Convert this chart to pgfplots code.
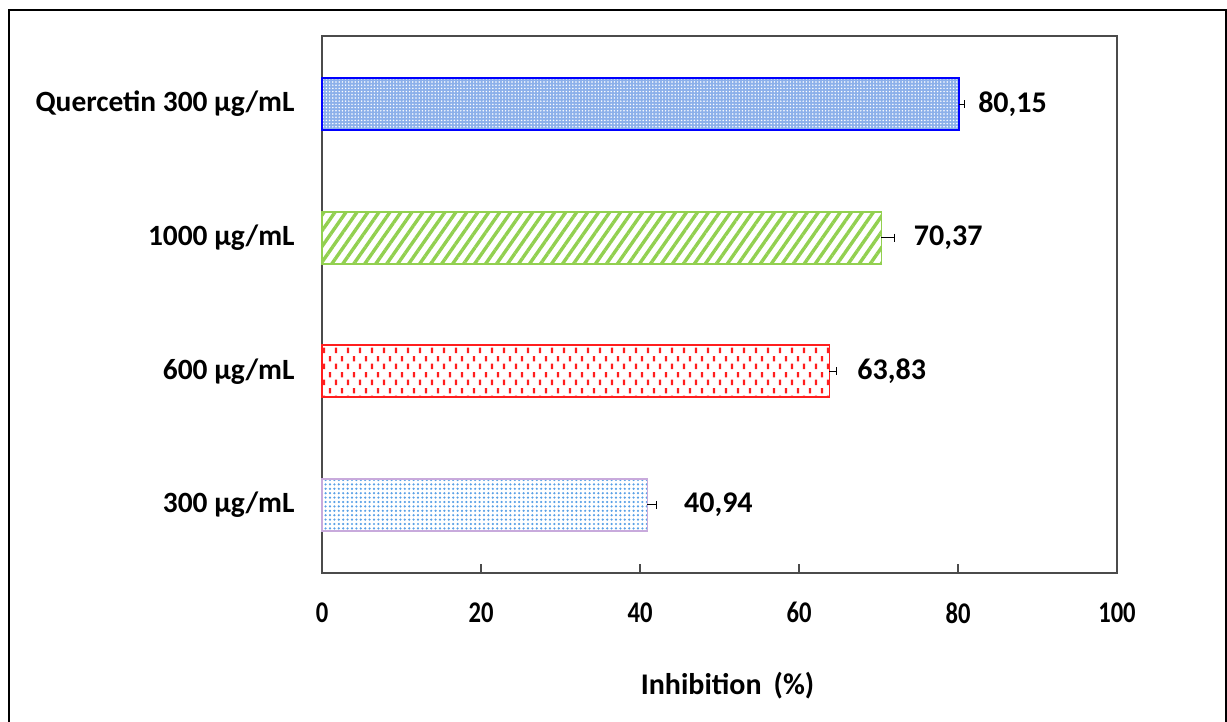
\documentclass[border=0pt]{standalone}
\usepackage{fontspec}
\setmainfont{Carlito}
\usepackage{graphicx}
\usepackage{pgfplots}
\pgfplotsset{compat=1.18}
\usetikzlibrary{patterns.meta}
\definecolor{qblue}{RGB}{0,0,255}
\definecolor{qfill}{RGB}{140,176,234}
\definecolor{lgreen}{RGB}{146,208,80}
\definecolor{dred}{RGB}{255,30,30}
\definecolor{lav}{RGB}{200,170,220}
\definecolor{dotblue}{RGB}{88,160,230}
\definecolor{axgray}{RGB}{75,75,75}
\tikzdeclarepattern{
  name=reddash,
  type=uncolored,
  bounding box={(0pt,0pt) and (6.2pt,8pt)},
  tile size={(6.2pt,8pt)},
  code={
    \pgfpathrectangle{\pgfpoint{0.5pt}{0.5pt}}{\pgfpoint{1.2pt}{2.8pt}}
    \pgfpathrectangle{\pgfpoint{3.6pt}{4.5pt}}{\pgfpoint{1.2pt}{2.8pt}}
    \pgfusepath{fill}
  }
}
\begin{document}
\begin{tikzpicture}
\useasboundingbox (0,0) rectangle (613.5pt,361pt);
\draw[line width=1.4pt] (4.5pt,0pt) -- (4.5pt,356pt) -- (613pt,356pt) -- (613pt,0pt);
\begin{axis}[
  at={(161pt,74.5pt)}, anchor=south west,
  scale only axis,
  width=397.5pt, height=268.5pt,
  xmin=0, xmax=100,
  ymin=-0.51, ymax=3.51,
  axis line style={axgray, line width=1pt},
  xtick={0,20,40,60,80,100},
  xticklabels={\scalebox{0.82}[1]{0},\scalebox{0.82}[1]{20},\scalebox{0.82}[1]{40},\scalebox{0.82}[1]{60},\scalebox{0.82}[1]{80},\scalebox{0.82}[1]{100}},
  xtick pos=bottom,
  tick align=inside,
  major tick length=4.5pt,
  xtick style={axgray, line width=0.8pt},
  ytick={0,1,2,3},
  yticklabels={300 µg/mL,600 µg/mL,1000 µg/mL,Quercetin 300 µg/mL},
  ytick style={draw=none},
  xticklabel style={font=\bfseries\fontsize{15pt}{18pt}\selectfont, anchor=north, inner sep=0pt, yshift=-14.5pt},
  yticklabel style={font=\bfseries\fontsize{14.7pt}{18pt}\selectfont, anchor=east, inner sep=0pt, xshift=-13.5pt},
  xlabel={Inhibition\hspace{0.4em}(\%)},
  xlabel style={font=\bfseries\fontsize{15pt}{18pt}\selectfont, at={(axis description cs:0.5,0)}, anchor=center, yshift=-56.5pt, xshift=4pt},
  every node near coord/.append style={font=\bfseries\fontsize{15pt}{18pt}\selectfont, anchor=west, inner sep=0pt, black},
  error bars/error bar style={black, line width=0.6pt},
  clip=false,
]
% 300 ug/mL
\addplot[xbar, bar width=26pt, bar shift=0pt, draw=lav, line width=0.8pt,
  pattern={Dots[distance=2.2pt, radius=0.62pt]}, pattern color=dotblue,
  error bars/.cd, x dir=plus, x explicit]
  coordinates {(40.94,0) +- (1.13,0)};
% 600 ug/mL
\addplot[xbar, bar width=26pt, bar shift=0pt, draw=dred, line width=0.9pt,
  pattern=reddash, pattern color=dred,
  error bars/.cd, x dir=plus, x explicit]
  coordinates {(63.83,1) +- (0.9,0)};
% 1000 ug/mL
\addplot[xbar, bar width=26pt, bar shift=0pt, draw=lgreen, line width=0.8pt,
  pattern={Lines[angle=55, distance=4.5pt, line width=1.7pt]}, pattern color=lgreen,
  error bars/.cd, x dir=plus, x explicit]
  coordinates {(70.37,2) +- (1.67,0)};
% Quercetin
\addplot[xbar, bar width=26pt, bar shift=0pt, draw=qblue, line width=1pt,
  fill=qfill, postaction={pattern={Dots[distance=1.6pt, radius=0.42pt]}, pattern color=white},
  error bars/.cd, x dir=plus, x explicit]
  coordinates {(80.15,3) +- (0.65,0)};
% value labels
\addplot[draw=none, mark=none, nodes near coords, point meta=explicit symbolic]
  coordinates {(45.5,0) [40,94] (67.3,1) [63,83] (74.4,2) [70,37] (82.5,3) [80,15]};
\end{axis}
\end{tikzpicture}
\end{document}
